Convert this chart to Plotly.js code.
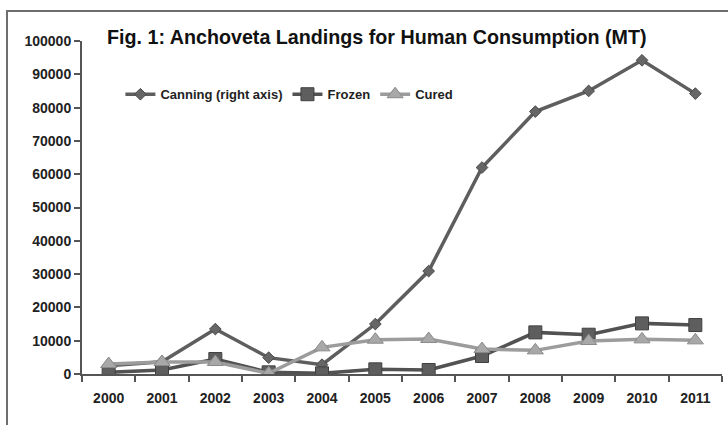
<!DOCTYPE html>
<html>
<head>
<meta charset="utf-8">
<script src="https://cdn.plot.ly/plotly-3.0.1.min.js"></script>
<style>
html,body{margin:0;padding:0;background:#fff;}
#wrap{position:relative;width:728px;height:425px;overflow:hidden;}
#chart{position:absolute;left:0;top:0;width:728px;height:425px;}
#frame{position:absolute;left:6px;top:10px;width:800px;height:500px;border-left:2px solid #6e6e6e;border-top:2px solid #6e6e6e;pointer-events:none;}
</style>
</head>
<body>
<div id="wrap"><div id="chart"></div><div id="frame"></div></div>
<script>
const years = ["2000","2001","2002","2003","2004","2005","2006","2007","2008","2009","2010","2011"];
const canning = [2500, 3700, 13500, 4900, 2800, 15000, 30900, 62000, 78800, 85000, 94200, 84200];
const frozen = [500, 1200, 4500, 500, 200, 1400, 1200, 5400, 12500, 11800, 15200, 14700];
const cured = [3000, 3600, 3600, 200, 8000, 10300, 10500, 7500, 7100, 9900, 10400, 10100];
const yTicks = [0,10000,20000,30000,40000,50000,60000,70000,80000,90000,100000];

const font = "Liberation Sans, Arial, sans-serif";

const traces = [
  {x: years, y: canning, name: "Canning (right axis)", type: "scatter", mode: "lines+markers",
   line: {color: "#5e5e5e", width: 3.5},
   marker: {symbol: "diamond", size: 9, color: "#666666", line: {color: "#4a4a4a", width: 1}}},
  {x: years, y: frozen, name: "Frozen", type: "scatter", mode: "lines+markers",
   line: {color: "#525252", width: 3.5},
   marker: {symbol: "square", size: 13, color: "#5e5e5e", line: {color: "#404040", width: 1}}},
  {x: years, y: cured, name: "Cured", type: "scatter", mode: "lines+markers",
   line: {color: "#9c9c9c", width: 3.5},
   marker: {symbol: "triangle-up", size: 14, color: "#a8a8a8", line: {color: "#8a8a8a", width: 1}}}
];

const layout = {
  width: 728, height: 425,
  margin: {l: 82, r: 6, t: 41, b: 51},
  paper_bgcolor: "#ffffff", plot_bgcolor: "#ffffff",
  title: {text: "Fig. 1: Anchoveta Landings for Human Consumption (MT)",
          font: {family: font, size: 19.7, color: "#111111", weight: "bold"},
          xref: "container", x: 107/728, xanchor: "left", yref: "container", y: 1 - 37/425, yanchor: "middle"},
  xaxis: {type: "category", range: [-0.5, 11.5], tickson: "boundaries", ticks: "outside", ticklen: 6,
          tickcolor: "#555", tickwidth: 2, showline: true, linecolor: "#555", linewidth: 2,
          showgrid: false, zeroline: false, fixedrange: true, ticklabelstandoff: 10,
          tickfont: {family: font, size: 14, color: "#222", weight: "bold"}},
  yaxis: {range: [0, 100000], tickvals: yTicks, ticktext: yTicks.map(String), ticks: "outside", ticklen: 6,
          tickcolor: "#555", tickwidth: 2, showline: true, linecolor: "#555", linewidth: 2,
          showgrid: false, zeroline: false, fixedrange: true,
          tickfont: {family: font, size: 14, color: "#222", weight: "bold"}},
  showlegend: true,
  legend: {orientation: "h", x: 0.06, xanchor: "left", y: 0.84, yanchor: "middle",
           font: {family: font, size: 13, color: "#222", weight: "bold"}, bgcolor: "rgba(0,0,0,0)",
           traceorder: "normal"}
};

Plotly.newPlot("chart", traces, layout, {displayModeBar: false, staticPlot: true});
</script>
</body>
</html>
